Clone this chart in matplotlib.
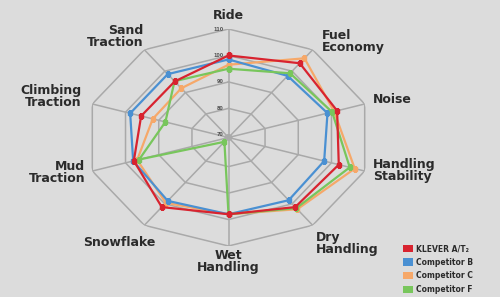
import numpy as np
import matplotlib.pyplot as plt
from matplotlib.patches import Patch

# axes, clockwise from the top
categories = ["Ride", "Fuel\nEconomy", "Noise", "Handling\nStability", "Dry\nHandling",
              "Wet\nHandling", "Snowflake", "Mud\nTraction", "Climbing\nTraction", "Sand\nTraction"]

klever = [100, 103.7, 101.7, 102.2, 101.5, 98, 101.5, 97.5, 95.3, 95.2]
comp_b = [98.5, 97.8, 98.8, 97.8, 98.3, 98, 98.6, 97.7, 98.6, 98.6]
comp_c = [96.5, 106, 100.8, 107, 102.5, 98, 99.5, 96.5, 91.8, 92]
comp_f = [95, 99, 100.2, 105.5, 102, 98, 71, 95.9, 88, 95.3]

series_names = ["KLEVER A/T\u2082", "Competitor B", "Competitor C", "Competitor F"]
ring_values = [70, 80, 90, 100, 110]

# label placement (offset in pixels from the outer vertex, alignment)
label_offsets = [(0, 14), (9, 8), (8, 4), (8, 1), (3, -18), (0, -15), (11, -17), (-7, -1), (-11, 7), (-1, 13)]
label_ha = ["center", "left", "left", "left", "left", "center", "right", "right", "right", "right"]

colors = {"red": "#d8232f", "blue": "#4a90d2", "orange": "#f6a869", "green": "#78c65c"}
grid_col = "#a9a9a9"
text_col = "#2b2b2b"

n = len(categories)
theta = np.linspace(0, 2 * np.pi, n, endpoint=False)
theta_c = np.append(theta, theta[0])


def closed(v):
    return np.append(v, v[0])


fig = plt.figure(figsize=(5, 2.97), dpi=100)
fig.patch.set_facecolor("#dcdcdc")
ax = fig.add_axes([0.1706, 0.1717, 0.5728, 0.7306], projection="polar")
ax.set_theta_offset(np.pi / 2)
ax.set_theta_direction(-1)
ax.set_facecolor("none")
ax.set_ylim(69, 110)
ax.set_aspect("auto")
ax.grid(False)
ax.spines["polar"].set_visible(False)
ax.set_xticks([])
ax.set_yticks([])

# decagon grid and spokes
for rv in ring_values:
    ax.plot(theta_c, [rv] * (n + 1), color=grid_col, lw=1.1, zorder=1)
for t in theta:
    ax.plot([t, t], [69, 110], color=grid_col, lw=1.1, zorder=1)

for rv in ring_values:
    ax.annotate(str(rv), xy=(0, rv), xytext=(-5, 0), textcoords="offset pixels",
                ha="right", va="center", fontsize=3.5, color="#555555", fontweight="bold")

# data
ax.plot(theta_c, closed(comp_c), color=colors["orange"], lw=1.6, marker="s", ms=2.5, zorder=3)
ax.plot(theta_c, closed(comp_b), color=colors["blue"], lw=1.6, marker="s", ms=3, zorder=4)
ax.plot(theta_c, closed(comp_f), color=colors["green"], lw=1.6, marker="s", ms=2.5, zorder=5)
ax.plot(theta_c, closed(klever), color=colors["red"], lw=1.6, marker="s", ms=3.5, zorder=6)

for t, lab, off, ha in zip(theta, categories, label_offsets, label_ha):
    ax.annotate(lab, xy=(t, 110), xytext=off, textcoords="offset pixels",
                ha=ha, va="center", multialignment=ha,
                fontsize=9, fontweight="bold", color=text_col, linespacing=0.9,
                annotation_clip=False)

handles = [Patch(facecolor=colors[c], edgecolor="none") for c in ["red", "blue", "orange", "green"]]
leg = fig.legend(handles, series_names, loc="upper left",
                 bbox_to_anchor=(403 / 500, 1 - 244 / 297), frameon=False,
                 fontsize=5.5, handlelength=1.35, handleheight=1.05, handletextpad=0.3,
                 labelspacing=0.6, borderpad=0, borderaxespad=0)
for t in leg.get_texts():
    t.set_color(text_col)
    t.set_fontweight("bold")

fig.savefig("out.png", dpi=100, facecolor=fig.get_facecolor())
